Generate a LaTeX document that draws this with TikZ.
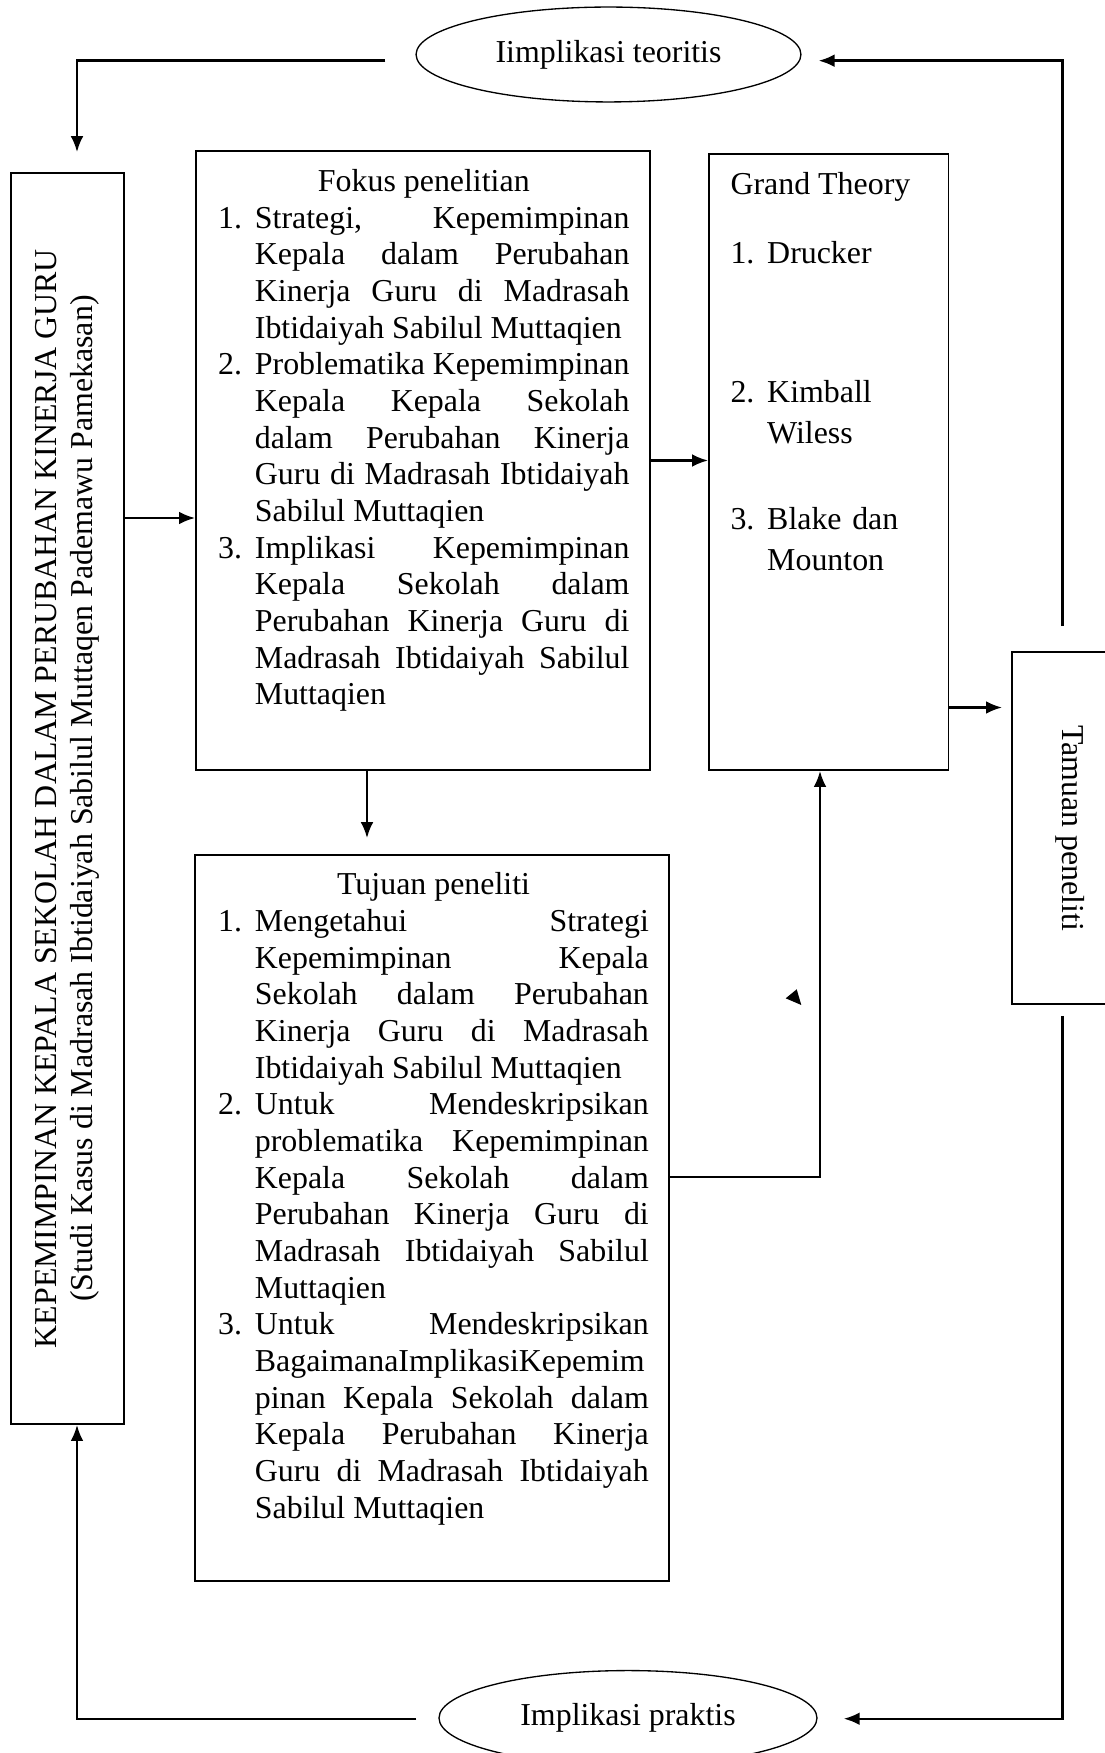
\documentclass[tikz,border=0pt]{standalone}
\usepackage{fontspec}
\setmainfont{Liberation Serif}
\usetikzlibrary{arrows.meta,fit,shapes.geometric}

\newlength{\itemind}
\setlength{\itemind}{13.8pt}
\newcommand{\numitem}[2]{\lefthyphenmin=62 \hyphenpenalty=10000 \noindent\hangindent=\itemind\hangafter=1\makebox[\itemind][l]{#1}#2\par}

\begin{document}
\begin{tikzpicture}[x=0.3762pt, y=-0.3762pt, >={Latex[length=6pt,width=4.8pt]},
	font=\fontsize{12}{13.8}\selectfont,
	box/.style={draw, line width=0.7pt, inner sep=0pt},
	oval/.style={draw, ellipse, line width=0.5pt, inner sep=0pt, minimum height=35.7pt},
	body/.style={anchor=north west, inner sep=0pt, align=justify,
		font={\fontsize{12}{13.8}\selectfont\tolerance=10000 \hbadness=10000 }},
	gtitem/.style={anchor=north west, inner sep=0pt, text width=82pt, align=left,
		font={\fontsize{12}{15.6}\selectfont}},
	arr/.style={->, line width=0.9pt}]
	\useasboundingbox (0,0) rectangle (1104,1753);
	
	% Rows and columns of the connectors
	\coordinate (rowTop) at (0,60.7);
	\coordinate (rowIn) at (0,518);
	\coordinate (rowOut) at (0,707.5);
	\coordinate (rowBack) at (0,1176.7);
	\coordinate (rowBot) at (0,1718.7);
	\coordinate (colLeft) at (77,0);
	\coordinate (colDown) at (367,0);
	\coordinate (colUp) at (820,0);
	\coordinate (colRight) at (1062.5,0);
	
	% Implikasi ovals
	\node[oval, minimum width=144.8pt] (teoriEll) at (608.5,54.5) {Iimplikasi teoritis};
	\node[oval, minimum width=142.2pt] (praktisEll) at (628,1718) {Implikasi praktis};
	
	% Title box
	\node[box, fit={(11,173) (124,1424)}] (kepBox) {};
	\node[rotate=90, align=center] (kepText) at (kepBox.center)
		{KEPEMIMPINAN KEPALA SEKOLAH DALAM PERUBAHAN KINERJA GURU\\(Studi Kasus di Madrasah Ibtidaiyah Sabilul Muttaqen Pademawu Pamekasan)};
	
	% Fokus penelitian
	\node[box, fit={(196,151) (650,770)}] (fokusBox) {};
	\node[body, text width=154.7pt] (fokusText) at (217.7,168.7) {{\centering Fokus penelitian\par}
		\numitem{1.}{Strategi, Kepemimpinan \linebreak Kepala dalam Perubahan \linebreak Kinerja Guru di Madrasah \linebreak Ibtidaiyah Sabilul Muttaqien}
		\numitem{2.}{Problematika Kepemimpinan \linebreak Kepala Kepala Sekolah \linebreak dalam Perubahan Kinerja \linebreak Guru di Madrasah Ibtidaiyah \linebreak Sabilul Muttaqien}
		\numitem{3.}{Implikasi Kepemimpinan \linebreak Kepala Sekolah dalam \linebreak Perubahan Kinerja Guru di \linebreak Madrasah Ibtidaiyah Sabilul \linebreak Muttaqien}};
	
	% Grand Theory
	\node[box, fit={(709,154) (948.5,770)}] (grandBox) {};
	\node[anchor=north west, inner sep=0pt] (gtHead) at (730,172) {Grand Theory};
	\node[gtitem] (gtOne) at (730,240.7) {\numitem{1.}{Drucker}};
	\node[gtitem] (gtTwo) at (730,379.6) {\numitem{2.}{Kimball Wiless}};
	\node[gtitem] (gtThree) at (730,506.6) {\numitem{3.}{Blake dan Mounton}};
	
	% Tamuan peneliti
	\node[box, fit={(1012,652) (1128,1004)}] (tamuanBox) {};
	\node[rotate=-90] (tamuanText) at (tamuanBox.center) {Tamuan peneliti};
	
	% Tujuan peneliti
	\node[box, fit={(195,855) (669,1581)}] (tujuanBox) {};
	\node[body, text width=162pt] (tujuanText) at (217.7,872) {{\centering Tujuan peneliti\par}
		\numitem{1.}{Mengetahui Strategi \linebreak Kepemimpinan Kepala \linebreak Sekolah dalam Perubahan \linebreak Kinerja Guru di Madrasah \linebreak Ibtidaiyah Sabilul Muttaqien}
		\numitem{2.}{Untuk Mendeskripsikan \linebreak problematika Kepemimpinan \linebreak Kepala Sekolah dalam \linebreak Perubahan Kinerja Guru di \linebreak Madrasah Ibtidaiyah Sabilul \linebreak Muttaqien}
		\numitem{3.}{Untuk Mendeskripsikan \linebreak BagaimanaImplikasiKepemim\linebreak pinan Kepala Sekolah dalam \linebreak Kepala Perubahan Kinerja \linebreak Guru di Madrasah Ibtidaiyah \linebreak Sabilul Muttaqien}};
	
	% Connectors
	\draw[arr, shorten <=11.3pt, shorten >=7.5pt] (teoriEll.west |- rowTop) -| (kepBox.north -| colLeft);
	\draw[arr, shorten <=9.4pt, shorten >=6.4pt] (tamuanBox.north -| colRight) |- (teoriEll.east |- rowTop);
	\draw[arr] (kepBox.east |- rowIn) -- (fokusBox.west |- rowIn);
	\draw[arr] (fokusBox.east) -- (grandBox.west |- fokusBox.east);
	\draw[arr, shorten >=6pt] (fokusBox.south -| colDown) -- (tujuanBox.north -| colDown);
	\draw[arr, shorten >=3.4pt] (grandBox.east |- rowOut) -- (tamuanBox.west |- rowOut);
	\draw[arr] (tujuanBox.east |- rowBack) -| (grandBox.south -| colUp);
	\draw[arr, shorten <=4.1pt, shorten >=9.8pt] (tamuanBox.south -| colRight) |- (praktisEll.east |- rowBot);
	\draw[arr, shorten <=8.3pt] (praktisEll.west |- rowBot) -| (kepBox.south -| colLeft);
	
	% Loose arrowhead
	\fill (785.7,998.3) -- (796.7,989.3) -- (801.3,1005) -- cycle;
\end{tikzpicture}
\end{document}
